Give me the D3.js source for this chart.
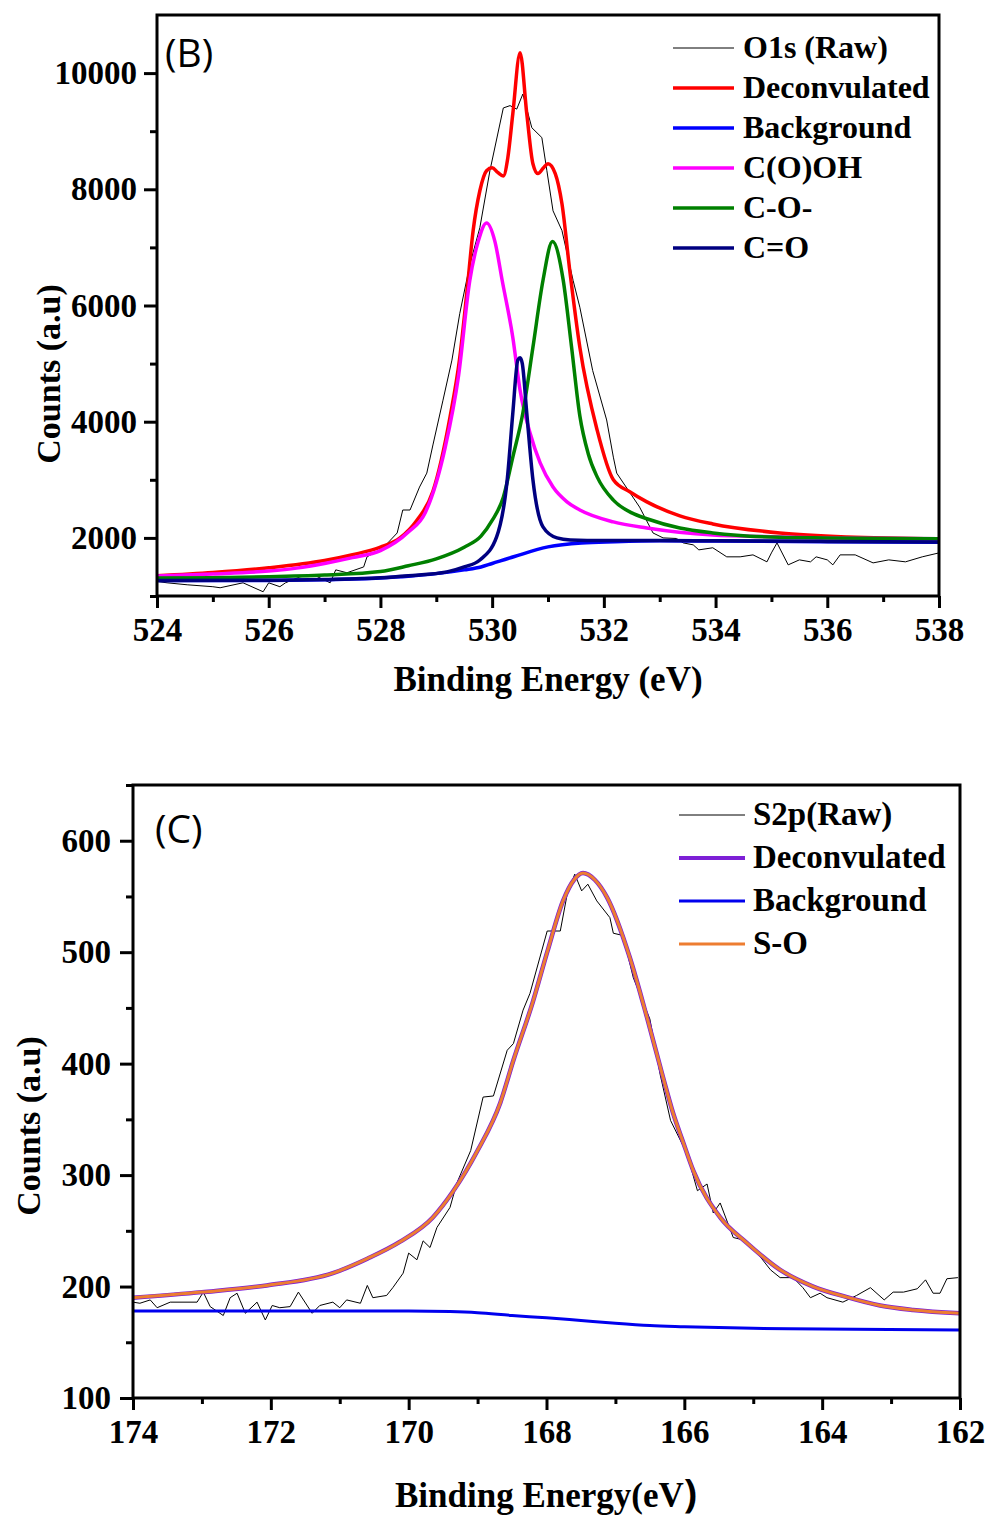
<!DOCTYPE html>
<html>
<head>
<meta charset="utf-8">
<script src="https://cdn.jsdelivr.net/npm/d3@7"></script>
<style>
body { margin: 0; background: #fff; }
svg text { font-family: "Liberation Serif", "Times New Roman", serif; font-weight: bold; fill: #000; }
svg text.panel { font-family: "Open Sans", "Noto Sans", sans-serif; font-weight: normal; }
</style>
</head>
<body>
<svg id="chart" width="989" height="1517"></svg>
<script>
// ---------- panel (B) : O1s ----------
var rawE_B = [524.0, 524.18, 524.54, 525.0, 525.13, 525.54, 525.9, 526.0, 526.2, 526.3, 526.56, 526.8, 527.1, 527.2, 527.4, 527.7, 527.76, 528.05, 528.3, 528.4, 528.53, 528.7, 528.83, 528.94, 529.12, 529.28, 529.42, 529.6, 529.78, 529.96, 530.2, 530.32, 530.44, 530.55, 530.71, 530.89, 530.98, 531.09, 531.25, 531.45, 531.57, 531.8, 532.05, 532.17, 532.23, 532.64, 532.88, 533.06, 533.3, 533.42, 533.6, 533.7, 533.95, 534.2, 534.44, 534.67, 534.92, 535.0, 535.1, 535.3, 535.5, 535.7, 535.8, 536.0, 536.1, 536.23, 536.5, 536.82, 537.1, 537.4, 537.7, 538.0];
var rawB = [1250, 1227, 1193, 1160, 1142, 1227, 1073, 1227, 1160, 1227, 1330, 1365, 1227, 1450, 1400, 1500, 1674, 1830, 2085, 2480, 2480, 2875, 3115, 3600, 4370, 5060, 5860, 6700, 7340, 8320, 9400, 9440, 9380, 9640, 9060, 8890, 8320, 7630, 7290, 6430, 5970, 4880, 4030, 3390, 3115, 2530, 2085, 2000, 1990, 1914, 1880, 1794, 1830, 1674, 1674, 1708, 1588, 1742, 1914, 1536, 1622, 1588, 1674, 1622, 1536, 1708, 1708, 1570, 1622, 1588, 1674, 1742];

var deconvE_B = [524, 525, 526, 527, 527.5, 528, 528.35, 528.65, 528.94, 529.25, 529.42, 529.55, 529.66, 529.78, 529.9, 530.0, 530.1, 530.2, 530.28, 530.37, 530.5, 530.62, 530.73, 530.82, 530.92, 531.0, 531.13, 531.25, 531.39, 531.57, 531.88, 532.17, 532.47, 532.77, 533.36, 533.95, 535.15, 536.35, 538];
var deconvB = [1348, 1405, 1485, 1610, 1710, 1840, 2000, 2300, 2800, 4100, 5100, 6250, 7290, 7975, 8320, 8370, 8290, 8230, 8540, 9300, 10350, 9300, 8440, 8270, 8370, 8440, 8270, 7750, 6600, 5280, 3854, 3000, 2790, 2620, 2380, 2240, 2085, 2017, 1985];

var bgE_B = [524, 526, 527, 528, 528.5, 529, 529.5, 529.8, 530.0, 530.4, 531, 531.6, 532.2, 533, 534, 536, 538];
var bgB = [1265, 1268, 1280, 1310, 1340, 1385, 1450, 1500, 1560, 1680, 1845, 1914, 1935, 1950, 1945, 1935, 1925];

var coohE = [524, 525, 526, 526.5, 527, 527.5, 528, 528.5, 528.8, 529.16, 529.4, 529.6, 529.75, 529.9, 530.05, 530.18, 530.37, 530.5, 530.68, 530.86, 531.09, 531.34, 531.57, 532.17, 532.77, 533.95, 535, 536, 538];
var cooh = [1345, 1380, 1430, 1480, 1560, 1660, 1780, 2100, 2430, 3560, 4800, 6430, 7100, 7420, 7100, 6430, 5450, 4540, 3800, 3290, 2875, 2620, 2480, 2275, 2170, 2050, 2020, 2000, 1985];

var coE = [524, 525, 526, 527, 528, 528.5, 529, 529.5, 529.8, 530, 530.2, 530.37, 530.55, 530.73, 530.91, 531.08, 531.27, 531.42, 531.57, 531.72, 531.88, 532.17, 532.5, 532.77, 533.36, 533.95, 535.15, 536, 538];
var co = [1310, 1315, 1330, 1360, 1420, 1520, 1640, 1840, 2030, 2300, 2700, 3390, 4150, 5280, 6430, 7100, 6450, 5300, 4100, 3450, 3050, 2650, 2430, 2330, 2170, 2085, 2010, 2000, 1985];

var cdoE = [524, 526, 527, 528, 528.5, 529.19, 529.5, 529.78, 530.08, 530.27, 530.37, 530.46, 530.5, 530.54, 530.62, 530.73, 530.91, 531.16, 531.4, 532, 533, 534, 536, 538];
var cdo = [1265, 1270, 1285, 1315, 1350, 1415, 1500, 1620, 2017, 3000, 4146, 5060, 5100, 5000, 4146, 3000, 2190, 2000, 1965, 1955, 1955, 1950, 1940, 1930];

var legendB = ["O1s (Raw)", "Deconvulated", "Background", "C(O)OH", "C-O-", "C=O"];
var xMajorB = [524, 526, 528, 530, 532, 534, 536, 538];
var xMinorB = [525, 527, 529, 531, 533, 535, 537];
var yMajorB = [2000, 4000, 6000, 8000, 10000];
var yMinorB = [1000, 3000, 5000, 7000, 9000];

// ---------- panel (C) : S2p ----------
var rawE_C = [174.0, 173.9, 173.75, 173.65, 173.46, 173.07, 172.98, 172.88, 172.69, 172.59, 172.49, 172.37, 172.2, 172.08, 171.98, 171.87, 171.72, 171.6, 171.4, 171.29, 171.1, 171.0, 170.9, 170.7, 170.6, 170.52, 170.32, 170.23, 170.08, 170.0, 169.88, 169.79, 169.69, 169.59, 169.4, 169.3, 169.1, 168.92, 168.77, 168.57, 168.48, 168.34, 168.24, 167.99, 167.8, 167.7, 167.59, 167.49, 167.4, 167.27, 167.08, 167.03, 166.89, 166.74, 166.5, 166.35, 166.2, 165.96, 165.81, 165.67, 165.58, 165.48, 165.29, 165.09, 164.94, 164.75, 164.61, 164.42, 164.28, 164.17, 164.03, 163.93, 163.7, 163.5, 163.3, 163.1, 162.97, 162.82, 162.62, 162.5, 162.39, 162.29, 162.19, 162.03];
var rawC = [186, 185, 188, 181, 186, 186, 195, 182, 174, 190, 194, 176, 186, 170, 183, 181, 182, 195, 176, 183, 186, 181, 188, 185, 201, 190, 192, 199, 212, 230, 224, 241, 235, 253, 271, 293, 322, 370, 371, 412, 418, 448, 463, 519, 519, 552, 570, 555, 561, 546, 531, 517, 515, 477, 440, 390, 349, 319, 286, 292, 266, 275, 244, 241, 230, 215, 208, 208, 199, 190, 194, 190, 186, 192, 199, 188, 195, 195, 198, 206, 194, 194, 207, 208];

var fitE_C = [174, 173, 172.06, 171.1, 170.6, 170.13, 169.65, 169.36, 169.0, 168.67, 168.48, 168.2, 167.99, 167.76, 167.6, 167.47, 167.3, 167.12, 166.79, 166.54, 166.31, 166.16, 166.02, 165.87, 165.48, 165.09, 164.61, 164.13, 163.64, 163.16, 162.68, 162.0];
var deconvC = [190, 195, 201, 212, 225, 240, 262, 285, 322, 365, 403, 455, 500, 546, 565, 571, 565, 549, 495, 441, 388, 355, 330, 304, 262, 239, 215, 200, 190.5, 183, 179, 176];
var soC = [190, 195, 201, 212, 225, 240, 262, 285, 322, 365, 403, 455, 500, 546, 565, 571, 565, 549, 495, 441, 388, 355, 330, 304, 262, 239, 215, 200, 190.5, 183, 179, 176];

var bgE_C = [174, 170, 169.4, 169, 168.5, 168, 167.5, 167, 166.5, 166, 165, 164, 162];
var bgC = [178, 178, 177.5, 176.5, 174, 172, 169.5, 167, 165, 164, 162.5, 162, 161];

var legendC = ["S2p(Raw)", "Deconvulated", "Background", "S-O"];
var xMajorC = [174, 172, 170, 168, 166, 164, 162];
var xMinorC = [173, 171, 169, 167, 165, 163];
var yMajorC = [100, 200, 300, 400, 500, 600];
var yMinorC = [150, 250, 350, 450, 550, 650];

var svg = d3.select("#chart");

function drawPanel(p) {
	var x = d3.scaleLinear().domain(p.xDomain).range([p.left, p.right]);
	var y = d3.scaleLinear().domain(p.yDomain).range([p.bottom, p.top]);
	var g = svg.append("g");

	// curves
	p.series.forEach(function(s) {
		var pts = d3.zip(s.e, s.v).sort(function(a, b) { return x(a[0]) - x(b[0]); });
		var line = d3.line()
			.x(function(d) { return x(d[0]); })
			.y(function(d) { return y(d[1]); })
			.curve(s.smooth ? d3.curveMonotoneX : d3.curveLinear);
		g.append("path")
			.datum(pts)
			.attr("fill", "none")
			.attr("stroke", s.color)
			.attr("stroke-width", s.width)
			.attr("stroke-linejoin", "round")
			.attr("d", line);
	});

	// frame
	g.append("rect")
		.attr("x", p.left).attr("y", p.top)
		.attr("width", p.right - p.left).attr("height", p.bottom - p.top)
		.attr("fill", "none").attr("stroke", "#000").attr("stroke-width", 3);

	// axes
	function styleAxis(sel) {
		sel.select(".domain").remove();
		sel.selectAll(".tick line").attr("stroke", "#000").attr("stroke-width", 3);
		sel.selectAll("text").style("font-size", "33px");
	}
	g.append("g").attr("transform", "translate(0," + p.bottom + ")")
		.call(d3.axisBottom(x).tickValues(p.xMajor).tickSize(12).tickPadding(10).tickFormat(d3.format("d")))
		.call(styleAxis);
	g.append("g").attr("transform", "translate(0," + p.bottom + ")")
		.call(d3.axisBottom(x).tickValues(p.xMinor).tickSize(6).tickFormat(""))
		.call(styleAxis);
	g.append("g").attr("transform", "translate(" + p.left + ",0)")
		.call(d3.axisLeft(y).tickValues(p.yMajor).tickSize(13).tickPadding(p.yPad).tickFormat(d3.format("d")))
		.call(styleAxis);
	g.append("g").attr("transform", "translate(" + p.left + ",0)")
		.call(d3.axisLeft(y).tickValues(p.yMinor).tickSize(7).tickFormat(""))
		.call(styleAxis);

	// titles
	var xt = g.append("text")
		.attr("x", p.xTitleX).attr("y", p.xTitleY)
		.attr("text-anchor", "middle").style("font-size", "35px")
		.text(p.xTitle);
	if (p.xTitleTail) {
		xt.append("tspan").style("font-family", "'Open Sans', sans-serif").style("font-size", "39px").text(p.xTitleTail);
	}
	g.append("text")
		.attr("transform", "translate(" + p.yTitleX + "," + p.yTitleY + ") rotate(-90)")
		.attr("text-anchor", "middle").style("font-size", "34px")
		.text("Counts (a.u)");

	// panel letter
	g.append("text").attr("class", "panel")
		.attr("x", p.tagX).attr("y", p.tagY)
		.style("font-size", "39px")
		.text(p.tag);

	// legend
	p.series.forEach(function(s, i) {
		var ly = p.legY + i * p.legStep;
		g.append("line")
			.attr("x1", p.legX1).attr("x2", p.legX2)
			.attr("y1", ly).attr("y2", ly)
			.attr("stroke", s.legColor || s.color)
			.attr("stroke-width", s.legWidth || s.width);
		g.append("text")
			.attr("x", p.legText).attr("y", ly + 10)
			.style("font-size", p.legFont)
			.text(p.legend[i]);
	});
}

drawPanel({
	xDomain: [524, 538], yDomain: [1000, 11000],
	left: 157, right: 939, top: 15, bottom: 596,
	xMajor: xMajorB, xMinor: xMinorB, yMajor: yMajorB, yMinor: yMinorB, yPad: 7,
	xTitle: "Binding Energy (eV)", xTitleX: 548, xTitleY: 691,
	yTitleX: 60, yTitleY: 374,
	tag: "(B)", tagX: 165, tagY: 67,
	legend: legendB, legX1: 673, legX2: 734, legText: 743, legY: 48, legStep: 40, legFont: "32px",
	series: [
		{ e: rawE_B, v: rawB, color: "#000", width: 1, smooth: false },
		{ e: deconvE_B, v: deconvB, color: "#ff0000", width: 3.5, smooth: true },
		{ e: bgE_B, v: bgB, color: "#0000ff", width: 3.5, smooth: true },
		{ e: coohE, v: cooh, color: "#ff00ff", width: 3.5, smooth: true },
		{ e: coE, v: co, color: "#008000", width: 3.5, smooth: true },
		{ e: cdoE, v: cdo, color: "#000080", width: 3.5, smooth: true }
	]
});

drawPanel({
	xDomain: [174, 162], yDomain: [100, 650],
	left: 133, right: 960, top: 785, bottom: 1398,
	xMajor: xMajorC, xMinor: xMinorC, yMajor: yMajorC, yMinor: yMinorC, yPad: 9,
	xTitle: "Binding Energy(eV", xTitleTail: ")", xTitleX: 546, xTitleY: 1507,
	yTitleX: 40, yTitleY: 1126,
	tag: "(C)", tagX: 155, tagY: 843,
	legend: legendC, legX1: 679, legX2: 745, legText: 753, legY: 815, legStep: 43, legFont: "33px",
	series: [
		{ e: rawE_C, v: rawC, color: "#000", width: 1, smooth: false },
		{ e: fitE_C, v: deconvC, color: "#7d1fd6", width: 4.5, legWidth: 4, smooth: true },
		{ e: bgE_C, v: bgC, color: "#0000ee", width: 3, smooth: true },
		{ e: fitE_C, v: soC, color: "#ed7d31", width: 3, smooth: true }
	]
});
</script>
</body>
</html>
